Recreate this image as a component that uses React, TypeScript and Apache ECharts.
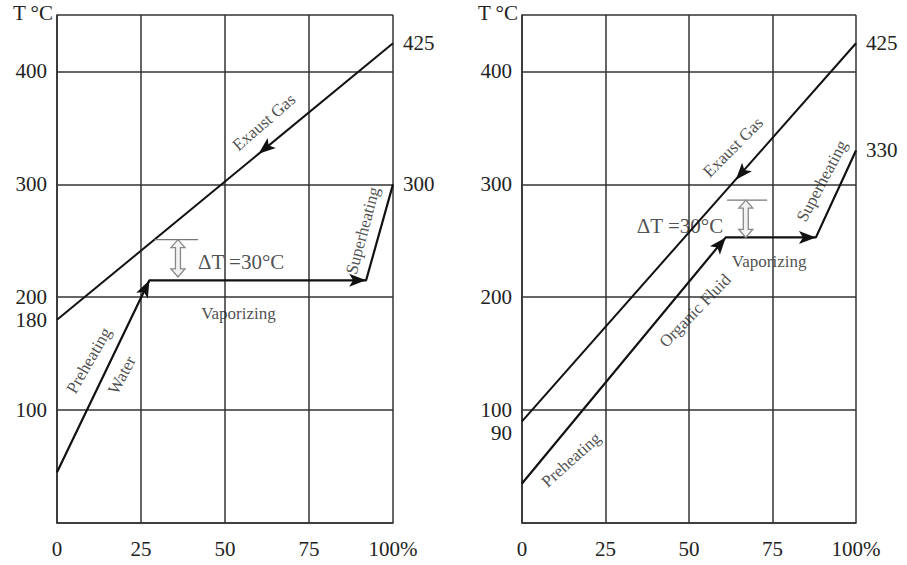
import React, { useEffect, useRef } from "react";
import * as echarts from "echarts";

// ---- data ----
const xTicks = [0, 25, 50, 75, 100];
const leftYLabels = [100, 180, 200, 300, 400];
const rightYLabels = [90, 100, 200, 300, 400];
const leftEndLabels = [300, 425];
const rightEndLabels = [330, 425];

const leftGas = [[0, 180], [100, 425]];
const leftWater = [[0, 45], [27.5, 215], [92, 215], [100, 300]];
const rightGas = [[0, 90], [100, 425]];
const rightFluid = [[0, 35], [61, 253], [88, 253], [100, 330]];

// arrowheads: [fromX, fromY, tipX, tipY]
const leftArrows = [[100, 425, 60, 327], [0, 45, 27.5, 215], [27.5, 215, 92, 215]];
const rightArrows = [[100, 425, 64, 304], [0, 35, 61, 253], [61, 253, 88, 253]];

// delta T markers: [x, top, bottom]
const leftDelta = [[36, 251, 218]];
const rightDelta = [[67, 286, 253]];
const leftDeltaTick = [[29, 251], [42, 251]];
const rightDeltaTick = [[61.4, 286], [73.4, 286]];

// annotations
const leftNotes = ["Exaust Gas", "Superheating", "Vaporizing", "Preheating", "Water", "ΔT =30°C"];
const leftNotePos = [[61.6, 355], [91, 259], [54, 186], [9.5, 144], [19.3, 131], [54.8, 231]];
const leftNoteRot = [41, 75, 0, 60, 62, 0];
const rightNotes = ["Exaust Gas", "Superheating", "Vaporizing", "Organic Fluid", "Preheating", "ΔT =30°C"];
const rightNotePos = [[63.2, 333], [89.8, 303], [74, 232], [51.8, 188], [14.7, 56], [47.3, 263]];
const rightNoteRot = [45, 62, 0, 46, 42, 0];

const FONT = '"Liberation Serif", "Times New Roman", serif';
const TXT = "#222";
const LINE = "#111";
const GRID = "#333";
const AXIS_FS = 21;
const NOTE_FS = 17;

function arrowRender(params: any, api: any) {
  const a = api.coord([api.value(0), api.value(1)]);
  const b = api.coord([api.value(2), api.value(3)]);
  const dx = b[0] - a[0];
  const dy = b[1] - a[1];
  const len = Math.hypot(dx, dy) || 1;
  const ux = dx / len, uy = dy / len;
  const px = -uy, py = ux;
  const L = 17, W = 6.5, N = 4;
  const points = [
    [b[0], b[1]],
    [b[0] - ux * L + px * W, b[1] - uy * L + py * W],
    [b[0] - ux * (L - N), b[1] - uy * (L - N)],
    [b[0] - ux * L - px * W, b[1] - uy * L - py * W],
  ];
  return { type: "polygon", shape: { points }, style: { fill: LINE } };
}

function deltaRender(params: any, api: any) {
  const t = api.coord([api.value(0), api.value(1)]);
  const b = api.coord([api.value(0), api.value(2)]);
  const cx = t[0];
  const yt = t[1], yb = b[1];
  const hw = 7, sw = 2.5, hl = 8;
  const points = [
    [cx, yt], [cx + hw, yt + hl], [cx + sw, yt + hl], [cx + sw, yb - hl], [cx + hw, yb - hl],
    [cx, yb], [cx - hw, yb - hl], [cx - sw, yb - hl], [cx - sw, yt + hl], [cx - hw, yt + hl],
  ];
  return { type: "polygon", shape: { points }, style: { fill: "#f2f2f2", stroke: "#888", lineWidth: 1.3 } };
}

function notesSeries(names: string[], pos: number[][], rot: number[], xi: number, yi: number) {
  return {
    type: "scatter",
    xAxisIndex: xi,
    yAxisIndex: yi,
    symbolSize: 0,
    silent: true,
    data: names.map((n, i) => ({
      value: pos[i],
      label: {
        show: true,
        position: "inside",
        formatter: n,
        rotate: rot[i],
        fontFamily: FONT,
        fontSize: n.startsWith("Δ") ? AXIS_FS : NOTE_FS,
        color: TXT,
      },
    })),
  };
}

function makeChart(idx: number, yLabels: number[], endLabels: number[], gas: number[][], fluid: number[][],
  arrows: number[][], delta: number[][], deltaTick: number[][], notes: string[], notePos: number[][], noteRot: number[]) {
  const xi = idx;
  const yi = idx * 2;
  return {
    xAxis: {
      type: "value", gridIndex: idx, min: 0, max: 100, interval: 25,
      axisLine: { show: true, lineStyle: { color: GRID, width: 1.6 } },
      axisTick: { show: false },
      axisLabel: {
        customValues: xTicks,
        formatter: (v: number) => (v === 100 ? "100%" : String(v)),
        fontFamily: FONT, fontSize: AXIS_FS, color: TXT, margin: 15,
      },
      splitLine: { show: true, lineStyle: { color: GRID, width: 1.5 } },
    },
    yAxes: [
      {
        type: "value", gridIndex: idx, min: 0, max: 450, interval: 100,
        name: "T °C", nameLocation: "end", nameGap: 2,
        nameTextStyle: { fontFamily: FONT, fontSize: AXIS_FS, color: TXT, align: "right", verticalAlign: "middle", padding: [0, 4, 0, 0] },
        axisLine: { show: true, lineStyle: { color: GRID, width: 1.6 } },
        axisTick: { show: false },
        axisLabel: {
          customValues: yLabels,
          formatter: (v: number) => (v === 90 ? `{lo|${v}}` : String(v)),
          rich: { lo: { padding: [24, 0, 0, 0], fontFamily: FONT, fontSize: AXIS_FS, color: TXT } },
          fontFamily: FONT, fontSize: AXIS_FS, color: TXT, margin: 10,
        },
        splitLine: { show: true, lineStyle: { color: GRID, width: 1.5 } },
      },
      {
        type: "value", gridIndex: idx, min: 0, max: 450, position: "right",
        axisLine: { show: false }, axisTick: { show: false }, splitLine: { show: false },
        axisLabel: { customValues: endLabels, fontFamily: FONT, fontSize: AXIS_FS, color: TXT, margin: 10 },
      },
    ],
    series: [
      { type: "line", xAxisIndex: xi, yAxisIndex: yi, data: gas, symbol: "none", silent: true, lineStyle: { color: LINE, width: 2 } },
      { type: "line", xAxisIndex: xi, yAxisIndex: yi, data: fluid, symbol: "none", silent: true, lineStyle: { color: LINE, width: 2.2 } },
      { type: "line", xAxisIndex: xi, yAxisIndex: yi, data: deltaTick, symbol: "none", silent: true, lineStyle: { color: "#777", width: 1.2 } },
      { type: "custom", xAxisIndex: xi, yAxisIndex: yi, data: arrows, encode: { x: [0, 2], y: [1, 3] }, renderItem: arrowRender, silent: true, z: 5 },
      { type: "custom", xAxisIndex: xi, yAxisIndex: yi, data: delta, encode: { x: 0, y: [1, 2] }, renderItem: deltaRender, silent: true, z: 4 },
      notesSeries(notes, notePos, noteRot, xi, yi),
    ],
  };
}

export default function App() {
  const ref = useRef<HTMLDivElement>(null);
  useEffect(() => {
    if (!ref.current) return;
    const chart = echarts.init(ref.current, null, { renderer: "svg" });
    const L = makeChart(0, leftYLabels, leftEndLabels, leftGas, leftWater, leftArrows, leftDelta, leftDeltaTick, leftNotes, leftNotePos, leftNoteRot);
    const R = makeChart(1, rightYLabels, rightEndLabels, rightGas, rightFluid, rightArrows, rightDelta, rightDeltaTick, rightNotes, rightNotePos, rightNoteRot);
    chart.setOption({
      animation: false,
      backgroundColor: "#fff",
      grid: [
        { left: 57, top: 15, width: 336, height: 508 },
        { left: 522, top: 15, width: 334, height: 508 },
      ],
      xAxis: [L.xAxis, R.xAxis],
      yAxis: [...L.yAxes, ...R.yAxes],
      series: [...L.series, ...R.series],
    } as any);
    return () => chart.dispose();
  }, []);
  return (
    <div
      ref={ref}
      style={{ position: "fixed", left: 0, top: 0, width: 907, height: 565, background: "#fff" }}
    />
  );
}
